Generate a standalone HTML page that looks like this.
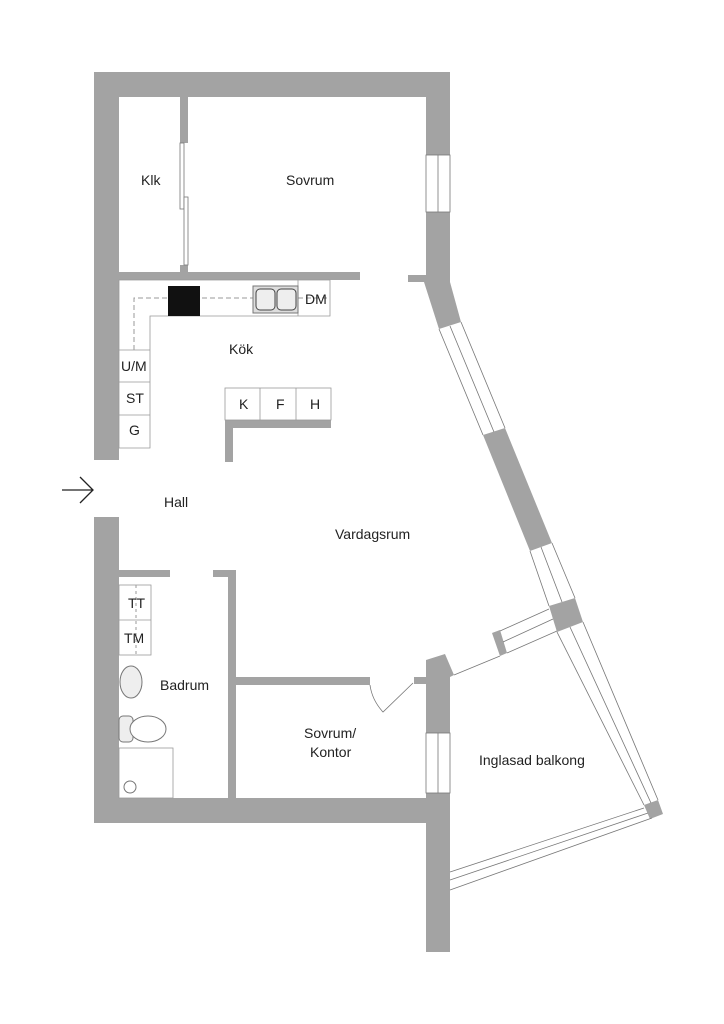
<!DOCTYPE html>
<html><head><style>body{margin:0;background:#fff}svg{display:block}text{font-family:"Liberation Sans",sans-serif;font-size:14px;fill:#222}</style></head><body>
<svg width="724" height="1024" viewBox="0 0 724 1024">
<g fill="#a3a3a3">
<rect x="94" y="72" width="356" height="25"/>
<rect x="94" y="72" width="25" height="388"/>
<rect x="94" y="517" width="25" height="306"/>
<rect x="94" y="798" width="356" height="25"/>
<rect x="426" y="72" width="24" height="83"/>
<rect x="426" y="212" width="24" height="73"/>
<rect x="408" y="275" width="20" height="7"/>
<polygon points="424,282 450,282 461,322 439,329"/>
<polygon points="483,435 505,428 552,543 530,551"/>
<polygon points="549,606 575,598 583,622 557,632"/>
<polygon points="644,805 658,800 663,814 650,819"/>
<polygon points="426,660 445,654 454,675 450,677 450,733 426,733"/>
<rect x="414" y="677" width="14" height="7"/>
<rect x="426" y="793" width="24" height="159"/>
<polygon points="492,633 500,630 507,653 500,656"/>
<rect x="119" y="272" width="241" height="8"/>
<rect x="180" y="97" width="8" height="46"/>
<rect x="180" y="265" width="8" height="8"/>
<rect x="225" y="420" width="106" height="8"/>
<rect x="225" y="420" width="8" height="42"/>
<rect x="119" y="570" width="51" height="7"/>
<rect x="213" y="570" width="23" height="7"/>
<rect x="228" y="570" width="8" height="228"/>
<rect x="236" y="677" width="134" height="8"/>
</g>
<g fill="#fff" stroke="#777" stroke-width="0.8">
<rect x="426" y="155" width="24" height="57"/><line x1="438" y1="155" x2="438" y2="212"/>
<rect x="426" y="733" width="24" height="60"/><line x1="438" y1="733" x2="438" y2="793"/>
<rect x="180" y="143" width="4" height="66"/><rect x="184" y="197" width="4" height="68"/>
</g>
<g fill="none" stroke="#777" stroke-width="0.8">
<polyline points="439,329 483,435"/><polyline points="450,326 494,432"/><polyline points="461,322 505,428"/>
<polyline points="530,551 549,606"/><polyline points="541,547 562,602"/><polyline points="552,543 575,598"/>
<polyline points="557,632 644,805"/><polyline points="570,627 651,803"/><polyline points="583,622 658,800"/>
<polyline points="644,808 450,872"/><polyline points="648,813 450,880"/><polyline points="652,818 450,890"/>
<polyline points="454,675 500,656"/>
<polyline points="500,631 549,609"/><polyline points="503,642 553,619"/><polyline points="507,653 557,631"/>
<path d="M370,685 Q372,700 383,712 L413,683"/>
</g>
<g fill="#fff" stroke="#999" stroke-width="0.8">
<path d="M119,280 H330 V316 H150 V448 H119 Z"/>
<line x1="119" y1="350" x2="150" y2="350"/><line x1="119" y1="382" x2="150" y2="382"/><line x1="119" y1="415" x2="150" y2="415"/>
<line x1="298" y1="280" x2="298" y2="316"/>
<rect x="225" y="388" width="106" height="32"/><line x1="260" y1="388" x2="260" y2="420"/><line x1="296" y1="388" x2="296" y2="420"/>
<rect x="119" y="585" width="32" height="70"/><line x1="119" y1="620" x2="151" y2="620"/>
<rect x="119" y="748" width="54" height="50"/>
</g>
<path d="M134,350 V298 H330" fill="none" stroke="#999" stroke-dasharray="5,3"/>
<path d="M136,585 V655" fill="none" stroke="#999" stroke-dasharray="3,3"/>
<rect x="168" y="286" width="32" height="30" fill="#111"/>
<rect x="253" y="286" width="45" height="27" fill="#ddd" stroke="#777"/>
<rect x="256" y="289" width="19" height="21" rx="4" fill="#eee" stroke="#444"/><rect x="277" y="289" width="19" height="21" rx="4" fill="#eee" stroke="#444"/>
<ellipse cx="131" cy="682" rx="11" ry="16" fill="#eee" stroke="#777"/>
<rect x="119" y="716" width="14" height="26" rx="4" fill="#eee" stroke="#777"/><ellipse cx="148" cy="729" rx="18" ry="13" fill="#fff" stroke="#777"/>
<circle cx="130" cy="787" r="6" fill="#fff" stroke="#777"/>
<path d="M62,490 H93 M80,477 L93,490 L80,503" fill="none" stroke="#222" stroke-width="1.3"/>
<text x="141" y="185">Klk</text>
<text x="286" y="185">Sovrum</text>
<text x="305" y="304">DM</text>
<text x="229" y="354">Kök</text>
<text x="121" y="371">U/M</text>
<text x="126" y="403">ST</text>
<text x="129" y="435">G</text>
<text x="239" y="409">K</text>
<text x="276" y="409">F</text>
<text x="310" y="409">H</text>
<text x="164" y="507">Hall</text>
<text x="335" y="539">Vardagsrum</text>
<text x="128" y="608">TT</text>
<text x="124" y="643">TM</text>
<text x="160" y="690">Badrum</text>
<text x="304" y="738">Sovrum/</text>
<text x="310" y="757">Kontor</text>
<text x="479" y="765">Inglasad balkong</text>
</svg>
</body></html>
